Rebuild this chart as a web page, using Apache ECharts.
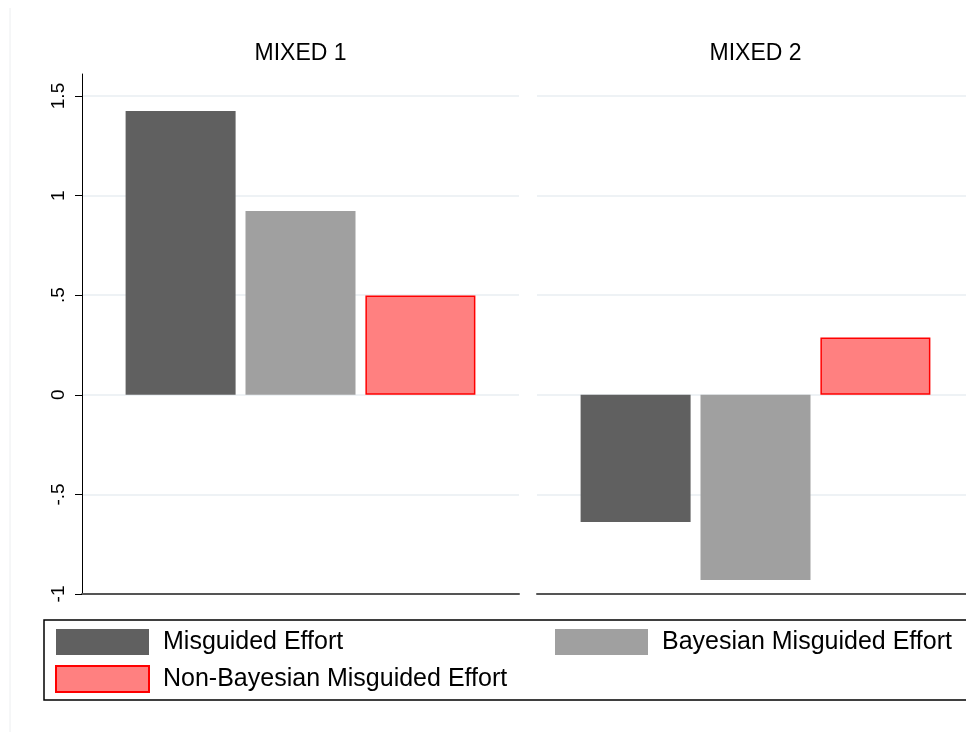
<!DOCTYPE html>
<html><head><meta charset="utf-8">
<script src="https://cdn.jsdelivr.net/npm/echarts@6/dist/echarts.min.js"></script>
<style>html,body{margin:0;padding:0;background:#fff}#c{width:966px;height:732px}</style>
</head><body><div id="c"></div>
<script>
// ---- data ----
const panels = ['MIXED 1', 'MIXED 2'];
const seriesNames = ['Misguided Effort', 'Bayesian Misguided Effort', 'Non-Bayesian Misguided Effort'];
const misguided = [1.425, -0.638];
const bayesian = [0.923, -0.93];
const nonBayesian = [0.498, 0.288];
const yTicks = [-1, -0.5, 0, 0.5, 1, 1.5];
const yTickLabels = ['-1', '-.5', '0', '.5', '1', '1.5'];

// ---- styles ----
const seriesValues = [misguided, bayesian, nonBayesian];
const itemStyles = [
  { color: '#606060', borderWidth: 0 },
  { color: '#a0a0a0', borderWidth: 0 },
  { color: '#ff8080', borderColor: '#ff0000', borderWidth: 1.5 }
];
const FONT = '"Liberation Sans", Arial, Helvetica, sans-serif';
const gridColor = '#e8eef2';

const chart = echarts.init(document.getElementById('c'), null, { renderer: 'canvas' });

const grids = [
  { left: 82, top: 96, width: 437, height: 498, outerBoundsMode: 'none', containLabel: false },
  { left: 537, top: 96, width: 437, height: 498, outerBoundsMode: 'none', containLabel: false },
  { left: 82, top: 74, width: 437, height: 520, outerBoundsMode: 'none', containLabel: false }
];

const xAxes = [0, 1, 2].map(i => ({
  type: 'category', gridIndex: i, data: [i < 2 ? panels[i] : ''],
  axisLine: { show: i < 2, onZero: false, lineStyle: { color: '#555', width: 2 } },
  axisTick: { show: false }, axisLabel: { show: false }, splitLine: { show: false }
}));

const fmt = v => {
  const k = yTicks.findIndex(t => Math.abs(t - v) < 1e-9);
  return k >= 0 ? yTickLabels[k] : '';
};

const yAxes = [
  {
    type: 'value', gridIndex: 0, min: yTicks[0], max: yTicks[yTicks.length - 1], interval: 0.5,
    axisLine: { show: false },
    axisTick: { show: true, length: 7, lineStyle: { color: '#000', width: 1 } },
    axisLabel: { show: true, rotate: 90, margin: 14, formatter: fmt, fontSize: 19, color: '#000', fontFamily: FONT },
    splitLine: { show: true, lineStyle: { color: gridColor, width: 1.5 } }
  },
  {
    type: 'value', gridIndex: 1, min: yTicks[0], max: yTicks[yTicks.length - 1], interval: 0.5,
    axisLine: { show: false }, axisTick: { show: false }, axisLabel: { show: false },
    splitLine: { show: true, lineStyle: { color: gridColor, width: 1.5 } }
  },
  {
    type: 'value', gridIndex: 2, min: 0, max: 1,
    axisLine: { show: true, lineStyle: { color: '#000', width: 1 } },
    axisTick: { show: false }, axisLabel: { show: false }, splitLine: { show: false }
  }
];

const series = [];
panels.forEach((p, i) => {
  seriesNames.forEach((name, s) => {
    series.push({
      type: 'bar', name: name, xAxisIndex: i, yAxisIndex: i,
      data: [seriesValues[s][i]],
      barWidth: 110, barGap: '9%',
      itemStyle: itemStyles[s],
      emphasis: { disabled: true }, animation: false
    });
  });
});

const legendCommon = {
  orient: 'vertical', itemWidth: 93, itemHeight: 26, itemGap: 10, icon: 'rect', padding: 0,
  selectedMode: false,
  textStyle: { fontSize: 25, color: '#000', fontFamily: FONT, padding: [0, 0, 0, 9] }
};

chart.setOption({
  animation: false,
  backgroundColor: '#fff',
  textStyle: { fontFamily: FONT },
  title: panels.map((p, i) => ({
    text: p, left: i === 0 ? 300.5 : 755.5, top: 42, textAlign: 'center', padding: 0,
    textStyle: { fontSize: 23, fontWeight: 'normal', color: '#000', fontFamily: FONT }
  })),
  grid: grids,
  xAxis: xAxes,
  yAxis: yAxes,
  legend: [
    Object.assign({ data: [seriesNames[0], seriesNames[2]], left: 55, top: 629 }, legendCommon),
    Object.assign({ data: [seriesNames[1]], left: 555, top: 629 }, legendCommon)
  ],
  graphic: [
    { type: 'rect', shape: { x: 44, y: 620, width: 950, height: 80 }, style: { fill: 'none', stroke: '#000', lineWidth: 1.5 }, silent: true },
    { type: 'line', shape: { x1: 10, y1: 8, x2: 10, y2: 732 }, style: { stroke: '#eceef0', lineWidth: 1 }, silent: true }
  ],
  series: series
});
</script>
</body></html>
